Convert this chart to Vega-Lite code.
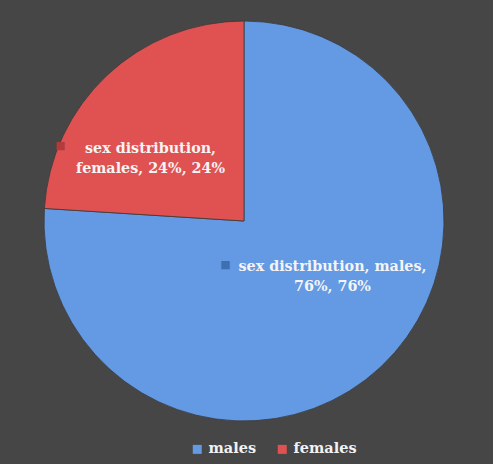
{
  "$schema": "https://vega.github.io/schema/vega-lite/v6.json",
  "width": 487,
  "height": 458,
  "autosize": "none",
  "padding": {"left": 6, "top": 6, "right": 0, "bottom": 0},
  "background": "#464646",
  "view": {"fill": "#464646", "stroke": null},
  "config": {"view": {"fill": "#464646", "stroke": null}},
  "data": {
    "values": [
      {"sex": "males", "value": 76, "order": 1, "label": "sex distribution, males,|76%, 76%"},
      {"sex": "females", "value": 24, "order": 2, "label": "sex distribution,|females, 24%, 24%"}
    ]
  },
  "encoding": {
    "theta": {"field": "value", "type": "quantitative", "stack": true},
    "order": {"field": "order", "type": "quantitative"}
  },
  "layer": [
    {
      "mark": {"type": "arc", "x": 238, "y": 215, "outerRadius": 200, "stroke": "#3a3a3a", "strokeWidth": 0.8},
      "encoding": {
        "color": {
          "field": "sex",
          "type": "nominal",
          "scale": {"domain": ["males", "females"], "range": ["#6499e3", "#e05252"]},
          "legend": {
            "orient": "none",
            "legendX": 184,
            "legendY": 436,
            "direction": "horizontal",
            "title": null,
            "symbolType": "square",
            "symbolSize": 81,
            "symbolStrokeWidth": 0,
            "labelFont": "DejaVu Serif",
            "labelFontWeight": "bold",
            "labelFontSize": 14.5,
            "labelColor": "#f2f2f2",
            "labelOffset": 4,
            "columnPadding": 18,
            "padding": 0
          }
        }
      }
    },
    {
      "mark": {
        "type": "text",
        "x": 238,
        "y": 215,
        "radius": 100,
        "font": "DejaVu Serif",
        "fontWeight": "bold",
        "fontSize": 14.3,
        "lineBreak": "|",
        "lineHeight": 20,
        "align": "center",
        "baseline": "middle",
        "fill": "#f4f4f4",
        "dx": {"expr": "datum.sex == 'males' ? 20 : -25"},
        "dy": {"expr": "datum.sex == 'males' ? -27 : 1"}
      },
      "encoding": {"text": {"field": "label", "type": "nominal"}}
    },
    {
      "mark": {
        "type": "text",
        "x": 238,
        "y": 215,
        "radius": 100,
        "text": "■",
        "font": "DejaVu Sans",
        "fontSize": 11,
        "align": "center",
        "baseline": "middle",
        "fill": {"expr": "datum.sex == 'males' ? '#3e6fb3' : '#b53b3b'"},
        "dx": {"expr": "datum.sex == 'males' ? -87 : -115"},
        "dy": {"expr": "datum.sex == 'males' ? -29 : -2"}
      }
    }
  ]
}
